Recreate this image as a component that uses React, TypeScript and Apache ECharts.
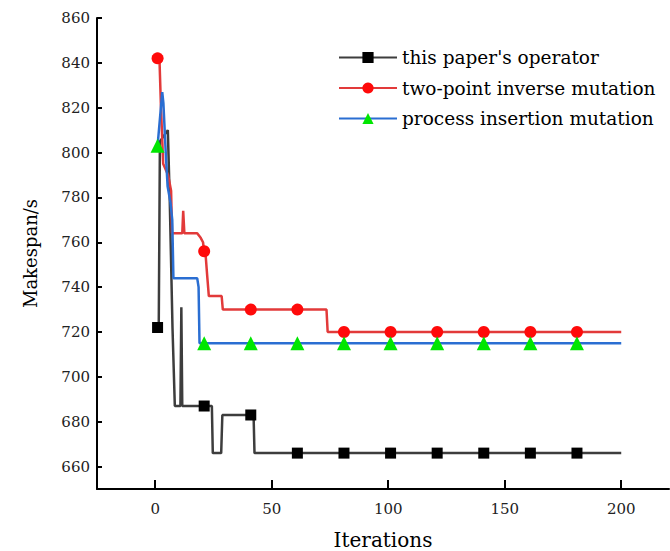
import React, { useEffect, useRef } from "react";
import * as echarts from "echarts";

const ITER_TICKS = [0, 50, 100, 150, 200];
const SPAN_TICKS = [660, 680, 700, 720, 740, 760, 780, 800, 820, 840, 860];

const SERIES_NAMES = ["this paper's operator", "two-point inverse mutation", "process insertion mutation"];

// convergence curves: [iteration, makespan]
const OURS_PATH: [number, number][] = [
  [0, 722], [1.5, 722], [2, 805], [5.4, 810], [6.2, 780], [7.4, 722], [8.4, 687], [10.8, 687],
  [11.2, 731], [11.6, 687], [24.3, 687], [24.7, 666], [28.3, 666], [28.8, 683], [42.2, 683],
  [42.6, 666], [200, 666],
];
const TWO_POINT_PATH: [number, number][] = [
  [1, 842], [1.8, 842], [2.4, 822], [3.4, 795], [5.5, 790], [6.8, 783], [7.2, 764], [11.6, 764],
  [12, 774], [12.5, 764], [18, 764], [19.5, 762], [20.5, 760], [21.5, 756], [22.3, 745],
  [23, 736], [28.5, 736], [29, 730], [73.5, 730], [74, 720], [200, 720],
];
const INSERTION_PATH: [number, number][] = [
  [1, 803], [3, 827], [3.5, 822], [4.5, 800], [5.3, 785], [6.5, 778], [7.3, 770], [7.8, 744],
  [18, 744], [18.6, 740], [19, 715], [200, 715],
];

// marker positions
const MARK_ITERS = [1, 21, 41, 61, 81, 101, 121, 141, 161, 181];
const OURS_MARKS = [722, 687, 683, 666, 666, 666, 666, 666, 666, 666];
const TWO_POINT_MARKS = [842, 756, 730, 730, 720, 720, 720, 720, 720, 720];
const INSERTION_MARKS = [803, 715, 715, 715, 715, 715, 715, 715, 715, 715];

const FONT = "DejaVu Serif";

function merge(path: [number, number][], marks: number[]) {
  const items: any[] = path.map((p) => ({ value: p, symbol: "none" }));
  MARK_ITERS.forEach((mx, i) => {
    let idx = -1;
    for (let k = 0; k < items.length; k++) {
      if (items[k].value[0] <= mx) idx = k;
    }
    items.splice(idx + 1, 0, { value: [mx, marks[i]] });
  });
  return items;
}

function makeSeries(name: string, path: [number, number][], marks: number[], lineColor: string, markColor: string, symbol: string, size: number) {
  return {
    name,
    type: "line",
    data: merge(path, marks),
    symbol,
    symbolSize: size,
    showAllSymbol: true,
    lineStyle: { color: lineColor, width: 2.5 },
    itemStyle: { color: markColor },
  };
}

export default function App() {
  const ref = useRef<HTMLDivElement>(null);
  useEffect(() => {
    const chart = echarts.init(ref.current!, null, { renderer: "svg" });
    const axisLine = { show: true, onZero: false, lineStyle: { color: "#000", width: 2 } };
    chart.setOption({
      animation: false,
      backgroundColor: "#fff",
      textStyle: { fontFamily: FONT },
      grid: { left: 97, top: 18, bottom: 62, right: 1, outerBoundsMode: "none", containLabel: false },
      legend: {
        orient: "vertical",
        left: 333,
        top: 43,
        itemWidth: 58,
        itemHeight: 14,
        itemGap: 11.5,
        data: SERIES_NAMES,
        textStyle: { fontFamily: FONT, fontSize: 18.5, color: "#000" },
      },
      xAxis: {
        type: "value",
        min: -25,
        max: 220.5,
        axisLine,
        splitLine: { show: false },
        axisTick: { show: true, inside: true, length: 9, customValues: ITER_TICKS, lineStyle: { color: "#000", width: 2 } },
        axisLabel: { customValues: ITER_TICKS, fontFamily: FONT, fontSize: 15, color: "#222", margin: 12 },
        name: "Iterations",
        nameLocation: "middle",
        nameGap: 41,
        nameTextStyle: { fontFamily: FONT, fontSize: 20, color: "#000" },
      },
      yAxis: {
        type: "value",
        min: 650,
        max: 860,
        axisLine,
        splitLine: { show: false },
        axisTick: { show: true, inside: true, length: 5, customValues: SPAN_TICKS, lineStyle: { color: "#000", width: 2 } },
        axisLabel: { customValues: SPAN_TICKS, fontFamily: FONT, fontSize: 15, color: "#222", margin: 7 },
        name: "Makespan/s",
        nameLocation: "middle",
        nameGap: 58,
        nameTextStyle: { fontFamily: FONT, fontSize: 18, color: "#000" },
      },
      series: [
        makeSeries(SERIES_NAMES[0], OURS_PATH, OURS_MARKS, "#3d3d3d", "#000000", "rect", 11),
        makeSeries(SERIES_NAMES[1], TWO_POINT_PATH, TWO_POINT_MARKS, "#e23a3a", "#ff0a0a", "circle", 12),
        makeSeries(SERIES_NAMES[2], INSERTION_PATH, INSERTION_MARKS, "#2a6ed2", "#00e600", "triangle", 14),
      ],
    });
    return () => chart.dispose();
  }, []);
  return <div ref={ref} style={{ position: "absolute", left: 0, top: 0, width: 670, height: 551 }} />;
}
